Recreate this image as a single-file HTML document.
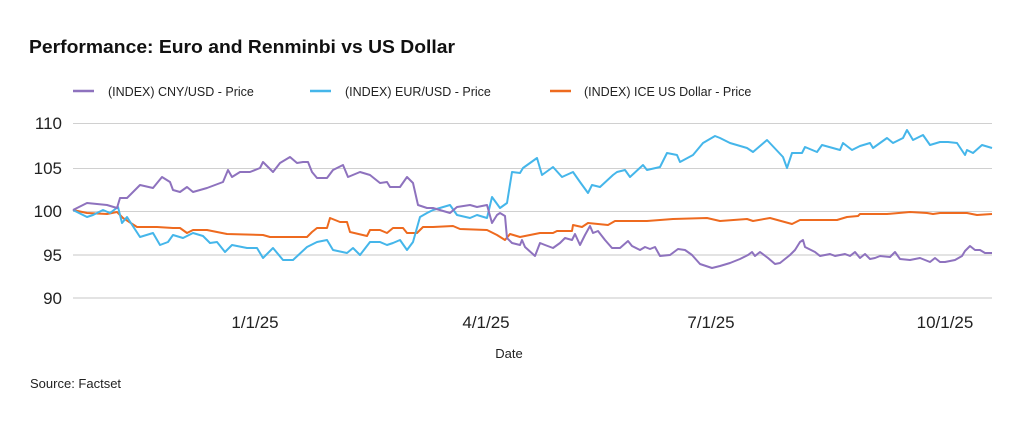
<!DOCTYPE html>
<html><head><meta charset="utf-8"><style>
html,body{margin:0;padding:0;background:#fff;}
body{width:1021px;height:428px;overflow:hidden;font-family:"Liberation Sans",sans-serif;}
</style></head><body>
<svg width="1021" height="428" viewBox="0 0 1021 428" xmlns="http://www.w3.org/2000/svg" font-family="Liberation Sans, sans-serif">
<text x="29" y="53" font-size="18.5" font-weight="bold" fill="#111" textLength="426" lengthAdjust="spacingAndGlyphs">Performance: Euro and Renminbi vs US Dollar</text>
<line x1="73" y1="91" x2="94" y2="91" stroke="#8E72BE" stroke-width="2.5"/>
<text x="108" y="96" font-size="12.5" fill="#222">(INDEX) CNY/USD - Price</text>
<line x1="310" y1="91" x2="331" y2="91" stroke="#45B6EA" stroke-width="2.5"/>
<text x="345" y="96" font-size="12.5" fill="#222">(INDEX) EUR/USD - Price</text>
<line x1="550" y1="91" x2="571" y2="91" stroke="#EE6A1F" stroke-width="2.5"/>
<text x="584" y="96" font-size="12.5" fill="#222">(INDEX) ICE US Dollar - Price</text>
<g stroke="#d0d0d0" stroke-width="1">
<line x1="73" y1="123.5" x2="992" y2="123.5"/>
<line x1="73" y1="168.5" x2="992" y2="168.5"/>
<line x1="73" y1="211.5" x2="992" y2="211.5"/>
</g>
<g stroke="#e3e3e3" stroke-width="2">
<line x1="73" y1="255" x2="992" y2="255"/>
<line x1="73" y1="298" x2="992" y2="298"/>
</g>
<g font-size="17" fill="#222" text-anchor="end">
<text x="62" y="129">110</text><text x="62" y="174">105</text><text x="62" y="217">100</text><text x="62" y="261">95</text><text x="62" y="304">90</text>
</g>
<g font-size="17" fill="#222" text-anchor="middle">
<text x="255" y="328">1/1/25</text><text x="486" y="328">4/1/25</text><text x="711" y="328">7/1/25</text><text x="945" y="328">10/1/25</text>
</g>
<text x="509" y="358" font-size="13" fill="#222" text-anchor="middle">Date</text>
<text x="30" y="388" font-size="13" fill="#222">Source: Factset</text>
<g fill="none" stroke-width="2" stroke-linejoin="round">
<polyline stroke="#EE6A1F" points="73,210 87,213 107,214 117,212 123,218 137,227 157,227 173,228 180,228 187,233 193,230 207,230 227,234 263,235 270,237 307,237 312,232 317,228 327,228 330,218 340,222 347,222 350,232 367,236 370,230 380,230 387,233 393,228 403,228 407,233 417,233 423,227 433,227 453,226 460,229 487,230 497,235 505,240 510,234 520,237 540,233 553,233 557,231 572,231 573,225 582,227 588,223 608,225 615,221 647,221 673,219 707,218 720,221 747,219 753,221 770,218 792,224 800,220 837,220 847,217 858,216 860,214 887,214 910,212 927,213 933,214 940,213 967,213 977,215 992,214"/>
<polyline stroke="#45B6EA" points="73,210 87,217 93,215 103,210 110,213 118,207 122,223 127,217 140,237 153,233 160,245 168,242 173,235 183,238 193,233 203,236 210,243 217,242 225,252 232,245 247,248 257,248 263,258 273,248 283,260 293,260 307,247 317,242 327,240 333,250 347,253 353,248 360,255 370,242 380,242 387,245 393,243 400,240 407,250 413,242 420,217 427,213 433,210 450,205 457,215 470,218 477,215 487,218 492,197 500,208 507,203 512,172 520,173 523,168 537,158 542,175 553,167 562,177 573,172 580,182 588,193 592,185 600,187 613,175 617,172 625,170 630,177 643,165 647,170 660,167 667,153 677,155 680,162 693,155 703,143 715,136 720,138 730,143 747,148 753,152 767,140 783,157 787,168 792,153 802,153 805,147 817,152 822,145 840,150 843,143 852,150 860,146 870,143 873,148 880,143 887,138 893,143 903,138 907,130 913,140 923,135 930,145 940,142 948,142 957,143 965,155 967,150 973,153 982,145 992,148"/>
<polyline stroke="#8E72BE" points="73,210 87,203 107,205 117,208 120,198 127,198 140,185 153,188 162,177 170,182 173,190 180,192 187,187 193,192 207,188 223,182 228,170 232,177 240,172 250,172 260,168 263,162 273,172 280,163 290,157 297,163 303,162 308,162 312,172 317,178 327,178 333,170 343,165 348,177 360,172 370,175 380,183 387,182 390,187 400,187 407,177 413,183 418,205 427,208 433,208 450,213 457,207 470,205 477,207 487,205 492,223 497,215 500,213 505,216 507,238 512,243 520,245 522,240 525,247 535,256 540,243 545,245 553,248 560,243 565,238 572,240 575,234 580,245 585,235 590,226 593,233 598,231 605,240 612,248 620,248 628,241 632,246 640,250 645,247 650,249 655,247 660,256 670,255 678,249 685,250 692,255 700,264 712,268 720,266 730,263 740,259 748,255 752,252 755,256 760,252 768,258 775,264 780,263 790,255 795,250 800,242 803,240 805,247 815,252 820,256 830,254 835,256 845,254 850,256 855,252 860,258 865,254 870,259 875,258 880,256 890,257 895,252 900,259 910,260 920,258 930,262 935,258 940,262 945,262 955,260 962,256 965,251 970,246 975,250 980,250 985,253 992,253"/>
</g>
</svg>
</body></html>
